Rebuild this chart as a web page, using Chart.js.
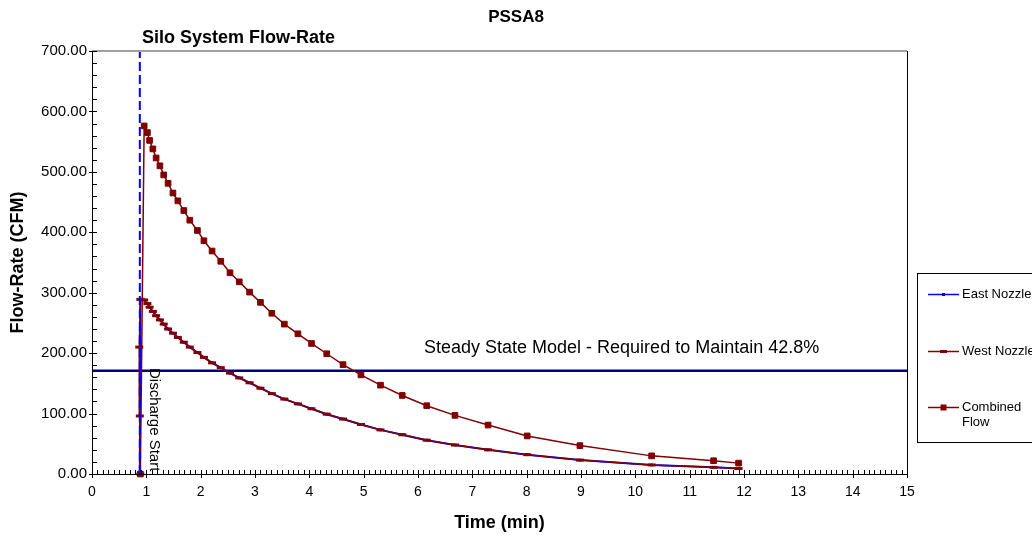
<!DOCTYPE html>
<html>
<head>
<meta charset="utf-8">
<script src="https://cdn.jsdelivr.net/npm/chart.js@4.4.1/dist/chart.umd.min.js"></script>
<style>
html, body { margin: 0; padding: 0; background: #fff; }
#wrap { width: 1032px; height: 537px; }
</style>
</head>
<body>
<div id="wrap"><canvas id="flowChart" width="1032" height="537"></canvas></div>
<script>
// values (time in min, flow in CFM)
var timeCombined = [0.89, 0.96, 1.02, 1.06, 1.12, 1.18, 1.25, 1.32, 1.40, 1.49, 1.58, 1.69, 1.80, 1.94, 2.06, 2.21, 2.37, 2.54, 2.71, 2.90, 3.10, 3.31, 3.54, 3.79, 4.04, 4.32, 4.62, 4.95, 5.31, 5.71, 6.16, 6.68, 7.29, 8.01, 8.98, 10.30, 11.44, 11.90];
var flowCombined = [0, 576, 565, 552, 538, 523, 510, 495, 481, 465, 452, 436, 420, 403, 386, 369, 352, 333, 318, 301, 284, 266, 248, 232, 216, 199, 181, 164, 147, 130, 113, 97, 81, 63, 47, 30, 22, 18];

var timeWest = [0.89, 0.88, 0.87, 0.89, 0.96, 1.02, 1.06, 1.12, 1.18, 1.25, 1.32, 1.40, 1.49, 1.58, 1.69, 1.80, 1.94, 2.06, 2.21, 2.37, 2.54, 2.71, 2.90, 3.10, 3.31, 3.54, 3.79, 4.04, 4.32, 4.62, 4.95, 5.31, 5.71, 6.16, 6.68, 7.29, 8.01, 8.98, 10.30, 11.44, 11.90];
var flowWest = [0, 96, 210, 289, 288, 282, 276, 269, 262, 255, 248, 240, 233, 226, 218, 210, 201, 193, 184, 176, 167, 159, 151, 142, 133, 124, 116, 108, 99, 91, 82, 73, 65, 56, 48, 40, 32, 23, 15, 11, 9];

var timeEast = [0.88, 0.89, 0.96, 1.02, 1.06, 1.12, 1.18, 1.25, 1.32, 1.40, 1.49, 1.58, 1.69, 1.80, 1.94, 2.06, 2.21, 2.37, 2.54, 2.71, 2.90, 3.10, 3.31, 3.54, 3.79, 4.04, 4.32, 4.62, 4.95, 5.31, 5.71, 6.16, 6.68, 7.29, 8.01, 8.98, 10.30, 11.44, 11.90];
var flowEast = [0, 289, 288, 282, 276, 269, 262, 255, 248, 240, 233, 226, 218, 210, 201, 193, 184, 176, 167, 159, 151, 142, 133, 124, 116, 108, 99, 91, 82, 73, 65, 56, 48, 40, 32, 23, 15, 11, 9];

var steadyTime = [0, 15];
var steadyFlow = [171, 171];
var dischargeTime = [0.88, 0.88];
var dischargeFlow = [0, 700];

var xTickValues = [0, 1, 2, 3, 4, 5, 6, 7, 8, 9, 10, 11, 12, 13, 14, 15];
var yTickValues = [0, 100, 200, 300, 400, 500, 600, 700];

var FONT = "'Liberation Sans', Arial, sans-serif";

function toPoints(xs, ys) {
    return xs.map(function (x, i) { return { x: x, y: ys[i] }; });
}

// minor ticks, frame lines
var axisDecor = {
    id: 'axisDecor',
    afterDatasetsDraw: function (chart) {
        var ctx = chart.ctx, a = chart.chartArea;
        var xs = chart.scales.x, ys = chart.scales.y;
        ctx.save();
        ctx.strokeStyle = '#a0a0a0';
        ctx.lineWidth = 2;
        ctx.beginPath();
        ctx.moveTo(a.left, a.top);
        ctx.lineTo(a.right, a.top);
        ctx.stroke();

        ctx.strokeStyle = '#000';
        ctx.lineWidth = 1;
        ctx.beginPath();
        ctx.moveTo(a.left + 0.5, a.top);
        ctx.lineTo(a.left + 0.5, a.bottom + 0.5);
        ctx.lineTo(a.right + 0.5, a.bottom + 0.5);
        ctx.lineTo(a.right + 0.5, a.top);
        for (var v = 0; v <= 700; v += 20) {
            var py = Math.round(ys.getPixelForValue(v)) + 0.5;
            ctx.moveTo(v % 100 === 0 ? a.left - 3 : a.left, py);
            ctx.lineTo(a.left + 5, py);
        }
        for (var i = 0; i <= 150; i++) {
            var px = Math.round(xs.getPixelForValue(i / 10)) + 0.5;
            ctx.moveTo(px, a.bottom - 4);
            ctx.lineTo(px, i % 10 === 0 ? a.bottom + 4 : a.bottom);
        }
        ctx.stroke();
        ctx.restore();
    }
};

// titles and notes
var chartText = {
    id: 'chartText',
    afterDraw: function (chart) {
        var ctx = chart.ctx, a = chart.chartArea;
        var xs = chart.scales.x, ys = chart.scales.y;
        ctx.save();
        ctx.fillStyle = '#000';
        ctx.textBaseline = 'middle';

        ctx.font = 'bold 17px ' + FONT;
        ctx.textAlign = 'center';
        ctx.fillText('PSSA8', 516, 17);

        ctx.font = 'bold 18px ' + FONT;
        ctx.textAlign = 'left';
        ctx.fillText('Silo System Flow-Rate', 142, 38);

        ctx.textAlign = 'center';
        ctx.fillText('Time (min)', (a.left + a.right) / 2, 523);

        ctx.save();
        ctx.translate(18, (a.top + a.bottom) / 2);
        ctx.rotate(-Math.PI / 2);
        ctx.fillText('Flow-Rate (CFM)', 0, 0);
        ctx.restore();

        ctx.font = '18px ' + FONT;
        ctx.textAlign = 'left';
        ctx.textBaseline = 'alphabetic';
        ctx.fillText('Steady State Model - Required to Maintain 42.8%', 424, ys.getPixelForValue(steadyFlow[0]) - 18);

        ctx.save();
        ctx.font = '15px ' + FONT;
        ctx.translate(xs.getPixelForValue(dischargeTime[0]) + 10, 368);
        ctx.rotate(Math.PI / 2);
        ctx.fillText('Discharge Start', 0, 0);
        ctx.restore();
        ctx.restore();
    }
};

// boxed legend on the right
var sideLegend = {
    id: 'sideLegend',
    afterDraw: function (chart) {
        var ctx = chart.ctx;
        var rows = [
            { ds: chart.data.datasets[2], y: 294, lines: ['East Nozzle'] },
            { ds: chart.data.datasets[3], y: 351, lines: ['West Nozzle'] },
            { ds: chart.data.datasets[4], y: 407, lines: ['Combined', 'Flow'] }
        ];
        ctx.save();
        ctx.strokeStyle = '#000';
        ctx.lineWidth = 1;
        ctx.strokeRect(917.5, 273.5, 130, 169);
        ctx.font = '13px ' + FONT;
        ctx.textBaseline = 'middle';
        ctx.textAlign = 'left';
        rows.forEach(function (r) {
            ctx.strokeStyle = r.ds.borderColor;
            ctx.lineWidth = 1.5;
            ctx.beginPath();
            ctx.moveTo(928, r.y + 0.5);
            ctx.lineTo(959, r.y + 0.5);
            ctx.stroke();
            ctx.fillStyle = r.ds.borderColor;
            if (r.ds.pointStyle === 'rect') {
                var s = r.ds.pointRadius * 1.5;
                ctx.fillRect(943.5 - s / 2, r.y + 0.5 - s / 2, s, s);
            } else {
                ctx.fillRect(940, r.y - 1, 7, 3);
            }
            ctx.fillStyle = '#000';
            r.lines.forEach(function (t, k) {
                ctx.fillText(t, 962, r.y + k * 15);
            });
        });
        ctx.restore();
    }
};

var ctx = document.getElementById('flowChart').getContext('2d');
var chart = new Chart(ctx, {
    type: 'line',
    data: {
        datasets: [{
            label: 'Discharge Start',
            data: toPoints(dischargeTime, dischargeFlow),
            borderColor: '#0000ff',
            borderWidth: 2,
            borderDash: [9, 4],
            pointRadius: 0,
            clip: false,
            order: 0
        }, {
            label: 'Steady State Model',
            data: toPoints(steadyTime, steadyFlow),
            borderColor: '#000080',
            borderWidth: 2.5,
            pointRadius: 0,
            order: 6
        }, {
            label: 'East Nozzle',
            data: toPoints(timeEast, flowEast),
            borderColor: '#0000ff',
            backgroundColor: '#0000ff',
            borderWidth: 2,
            pointStyle: 'rect',
            pointRadius: 2,
            pointBorderWidth: 0,
            clip: false,
            order: 5
        }, {
            label: 'West Nozzle',
            data: toPoints(timeWest, flowWest),
            borderColor: '#800000',
            backgroundColor: '#800000',
            borderWidth: 1.5,
            pointStyle: 'line',
            pointRadius: 4,
            pointBorderWidth: 3,
            clip: false,
            order: 4
        }, {
            label: 'Combined Flow',
            data: toPoints(timeCombined, flowCombined),
            borderColor: '#800000',
            backgroundColor: '#800000',
            borderWidth: 1.5,
            pointStyle: 'rect',
            pointRadius: 4,
            pointBorderWidth: 1,
            clip: false,
            order: 3
        }]
    },
    options: {
        responsive: false,
        animation: false,
        devicePixelRatio: 1,
        layout: {
            padding: { top: 51, right: 125, left: 0, bottom: 0 }
        },
        scales: {
            x: {
                type: 'linear',
                min: 0,
                max: 15,
                grid: { display: false, drawTicks: false },
                border: { display: false },
                afterBuildTicks: function (scale) {
                    scale.ticks = xTickValues.map(function (v) { return { value: v }; });
                },
                afterFit: function (scale) { scale.height = 63; },
                ticks: {
                    padding: 10,
                    color: '#000',
                    autoSkip: false,
                    maxRotation: 0,
                    font: { family: FONT, size: 14 }
                }
            },
            y: {
                min: 0,
                max: 700,
                grid: { display: false, drawTicks: false },
                border: { display: false },
                afterBuildTicks: function (scale) {
                    scale.ticks = yTickValues.map(function (v) { return { value: v }; });
                },
                afterFit: function (scale) { scale.width = 92; },
                ticks: {
                    padding: 5,
                    color: '#000',
                    callback: function (value) { return value.toFixed(2); },
                    font: { family: FONT, size: 15 }
                }
            }
        },
        elements: {
            line: { tension: 0 }
        },
        plugins: {
            legend: { display: false },
            title: { display: false },
            tooltip: { enabled: false }
        }
    },
    plugins: [axisDecor, chartText, sideLegend]
});
</script>
</body>
</html>
